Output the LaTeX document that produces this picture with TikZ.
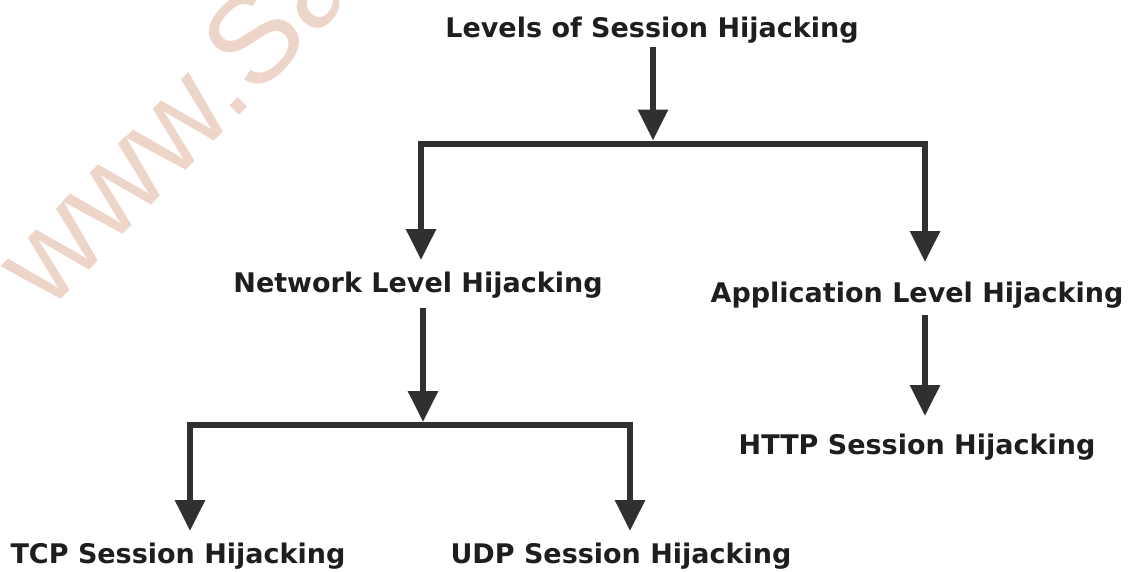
\documentclass[tikz,border=0pt]{standalone}
\usepackage{fontspec}
\setmainfont{DejaVu Sans}
\newfontfamily\wmfont{Liberation Sans}
\usetikzlibrary{arrows.meta}
\definecolor{ink}{HTML}{1E1E1E}
\definecolor{linec}{HTML}{303030}
\definecolor{wm}{HTML}{EDD6C9}
\begin{document}
\begin{tikzpicture}[x=1pt,y=-1pt,
  lbl/.style={inner sep=0pt, anchor=base, text=ink, font=\fontsize{27}{30}\selectfont\bfseries},
  conn/.style={draw=linec, line width=6pt},
  arr/.style={conn, -{Triangle[length=31pt,width=29pt]}}]
\useasboundingbox (0,0) rectangle (1129,571);
% watermark
\begin{scope}
\clip (0,0) rectangle (1129,571);
\node[rotate=46, anchor=base west, inner sep=0pt, text=wm, font=\wmfont\fontsize{125}{125}\selectfont] (wmark) at (48,313) {www.Sa};
\end{scope}
% labels
\node[lbl] (top)  at (652,37)  {Levels of Session Hijacking};
\node[lbl] (net)  at (418,292) {Network Level Hijacking};
\node[lbl] (app)  at (917,302) {Application Level Hijacking};
\node[lbl] (http) at (917,454) {HTTP Session Hijacking};
\node[lbl] (tcp)  at (178,563) {TCP Session Hijacking};
\node[lbl] (udp)  at (621,563) {UDP Session Hijacking};
% junctions
\coordinate (j1) at (653,143.5);
\coordinate (j1l) at (421,143.5);
\coordinate (j1r) at (925,143.5);
\coordinate (t1) at (653,47);
\coordinate (j2) at (423,425);
\coordinate (j2l) at (190,425);
\coordinate (j2r) at (630,425);
\coordinate (t2) at (423,308);
\coordinate (t3) at (925,315);
% connectors
\draw[arr] (t1) -- ([yshift=3pt]j1);
\draw[conn] ([xshift=-3pt]j1l) -- ([xshift=3pt]j1r);
\draw[arr] ([yshift=-3pt]j1l) -- (j1l |- 0,260) coordinate (e1);
\draw[arr] ([yshift=-3pt]j1r) -- (j1r |- 0,262) coordinate (e2);
\draw[arr] (t2) -- ([yshift=3pt]j2);
\draw[conn] ([xshift=-3pt]j2l) -- ([xshift=3pt]j2r);
\draw[arr] ([yshift=-3pt]j2l) -- (j2l |- 0,531) coordinate (e3);
\draw[arr] ([yshift=-3pt]j2r) -- (j2r |- 0,531) coordinate (e4);
\draw[arr] (t3) -- (925,416) coordinate (e5);
\end{tikzpicture}
\end{document}
